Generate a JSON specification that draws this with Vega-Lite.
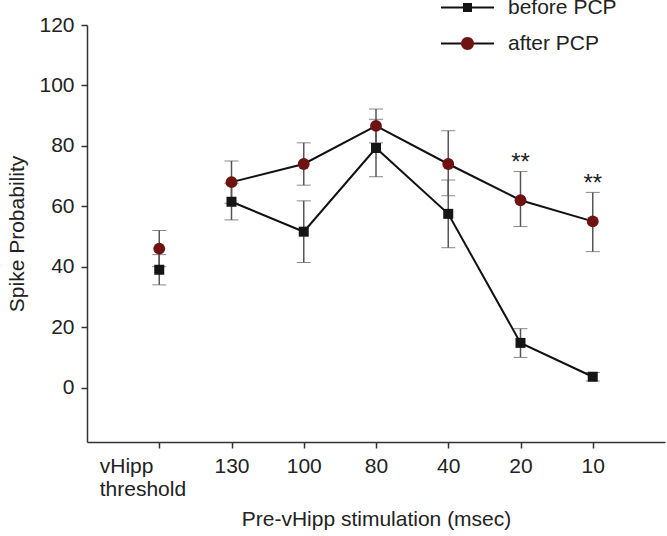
{
  "$schema": "https://vega.github.io/schema/vega-lite/v6.json",
  "width": 578,
  "height": 417,
  "autosize": {"type": "none"},
  "padding": {"left": 87, "top": 25, "right": 2, "bottom": 94},
  "background": "white",
  "config": {
    "view": {"stroke": null},
    "font": "Liberation Sans",
    "axis": {
      "grid": false,
      "domainColor": "#333",
      "domainWidth": 1.5,
      "tickColor": "#333",
      "tickWidth": 1.5,
      "tickSize": 6,
      "labelColor": "#222",
      "labelFont": "Liberation Sans",
      "labelFontSize": 21,
      "titleFont": "Liberation Sans",
      "titleFontSize": 21,
      "titleFontWeight": "normal",
      "titleColor": "#222"
    },
    "legend": {
      "orient": "none",
      "legendX": 370,
      "legendY": -28,
      "padding": 0,
      "symbolSize": 100,
      "symbolStrokeWidth": 0,
      "labelOffset": 30,
      "labelFontSize": 21,
      "labelFont": "Liberation Sans",
      "labelColor": "#222",
      "rowPadding": 14
    }
  },
  "datasets": {
    "main": [
      {"cond": 1, "series": "before PCP", "mean": 39, "lo": 34, "hi": 44},
      {"cond": 2, "series": "before PCP", "mean": 61.5, "lo": 55.5, "hi": 67.5},
      {"cond": 3, "series": "before PCP", "mean": 51.6, "lo": 41.4, "hi": 61.8},
      {"cond": 4, "series": "before PCP", "mean": 79.3, "lo": 69.8, "hi": 88.8},
      {"cond": 5, "series": "before PCP", "mean": 57.5, "lo": 46.3, "hi": 68.7},
      {"cond": 6, "series": "before PCP", "mean": 14.8, "lo": 10, "hi": 19.5},
      {"cond": 7, "series": "before PCP", "mean": 3.6, "lo": 2.2, "hi": 5},
      {"cond": 1, "series": "after PCP", "mean": 46, "lo": 40, "hi": 52},
      {"cond": 2, "series": "after PCP", "mean": 68, "lo": 61, "hi": 75},
      {"cond": 3, "series": "after PCP", "mean": 74, "lo": 67, "hi": 81},
      {"cond": 4, "series": "after PCP", "mean": 86.6, "lo": 81, "hi": 92.2},
      {"cond": 5, "series": "after PCP", "mean": 74, "lo": 63.5, "hi": 85},
      {"cond": 6, "series": "after PCP", "mean": 62, "lo": 53.3, "hi": 71.5},
      {"cond": 7, "series": "after PCP", "mean": 55, "lo": 45, "hi": 64.6}
    ],
    "stars": [
      {"cond": 6, "val": 76, "label": "**"},
      {"cond": 7, "val": 69, "label": "**"}
    ]
  },
  "encoding": {
    "x": {
      "field": "cond",
      "type": "quantitative",
      "scale": {"domain": [0, 8], "nice": false, "zero": false},
      "axis": {
        "title": "Pre-vHipp stimulation (msec)",
        "values": [1, 2, 3, 4, 5, 6, 7],
        "labelExpr": "[null, ['vHipp', 'threshold'], '130', '100', '80', '40', '20', '10'][datum.value]",
        "labelAlign": {"condition": {"test": "datum.value == 1", "value": "left"}, "value": "center"},
        "labelOffset": {"condition": {"test": "datum.value == 1", "value": -60}, "value": 0},
        "labelPadding": 7,
        "labelLineHeight": 23,
        "titlePadding": 9
      }
    }
  },
  "layer": [
    {
      "data": {"name": "main"},
      "mark": {
        "type": "errorbar",
        "ticks": {"size": 14, "color": "#555", "strokeWidth": 1.5},
        "rule": {"color": "#555", "strokeWidth": 1.5}
      },
      "encoding": {
        "y": {
          "field": "lo",
          "type": "quantitative",
          "scale": {"domain": [-18, 120], "nice": false, "zero": false},
          "axis": {
            "title": "Spike Probability",
            "values": [0, 20, 40, 60, 80, 100, 120],
            "labelPadding": 7,
            "titlePadding": 11
          }
        },
        "y2": {"field": "hi"},
        "detail": {"field": "series"}
      }
    },
    {
      "data": {"name": "main"},
      "transform": [{"filter": "datum.cond >= 2"}],
      "mark": {"type": "line", "color": "#111", "strokeWidth": 2},
      "encoding": {
        "y": {"field": "mean", "type": "quantitative"},
        "detail": {"field": "series"}
      }
    },
    {
      "data": {"name": "main"},
      "mark": {"type": "point", "filled": true, "opacity": 1},
      "encoding": {
        "y": {"field": "mean", "type": "quantitative"},
        "shape": {
          "field": "series",
          "scale": {"domain": ["before PCP", "after PCP"], "range": ["square", "circle"]},
          "legend": null
        },
        "color": {
          "field": "series",
          "scale": {"domain": ["before PCP", "after PCP"], "range": ["#151515", "#6e1212"]},
          "legend": null
        },
        "size": {
          "field": "series",
          "scale": {"domain": ["before PCP", "after PCP"], "range": [100, 140]},
          "legend": null
        }
      }
    },
    {
      "data": {"name": "main"},
      "transform": [{"filter": "datum.cond > 100"}],
      "mark": {"type": "point", "filled": true, "size": 100, "color": "#111"},
      "encoding": {
        "y": {"field": "mean", "type": "quantitative", "aggregate": "mean"},
        "shape": {
          "field": "series",
          "scale": {
            "domain": ["before PCP", "after PCP"],
            "range": [
              "M-5.3,-0.2H5.3V0.2H-5.3Z",
              "M-5.3,-0.2H-1.2V0.2H-5.3ZM1.2,-0.2H5.3V0.2H1.2Z"
            ]
          },
          "legend": {"title": null}
        }
      }
    },
    {
      "data": {"name": "main"},
      "transform": [{"filter": "datum.cond > 100"}],
      "mark": {"type": "point", "filled": true, "size": 100},
      "encoding": {
        "y": {"field": "mean", "type": "quantitative", "aggregate": "mean"},
        "shape": {
          "field": "series",
          "scale": {
            "domain": ["before PCP", "after PCP"],
            "range": [
              "M-0.9,-0.9H0.9V0.9H-0.9Z",
              "M1.3,0A1.3,1.3 0 1,1 -1.3,0A1.3,1.3 0 1,1 1.3,0Z"
            ]
          },
          "legend": {"title": null, "labelColor": "transparent"}
        },
        "color": {
          "field": "series",
          "scale": {"domain": ["before PCP", "after PCP"], "range": ["#151515", "#6e1212"]},
          "legend": {"title": null, "labelColor": "transparent"}
        }
      }
    },
    {
      "data": {"name": "stars"},
      "mark": {"type": "text", "fontSize": 24, "color": "#222", "baseline": "middle", "dy": 5},
      "encoding": {
        "y": {"field": "val", "type": "quantitative"},
        "text": {"field": "label"}
      }
    }
  ],
  "resolve": {"scale": {"shape": "independent", "color": "independent", "size": "independent"}}
}
